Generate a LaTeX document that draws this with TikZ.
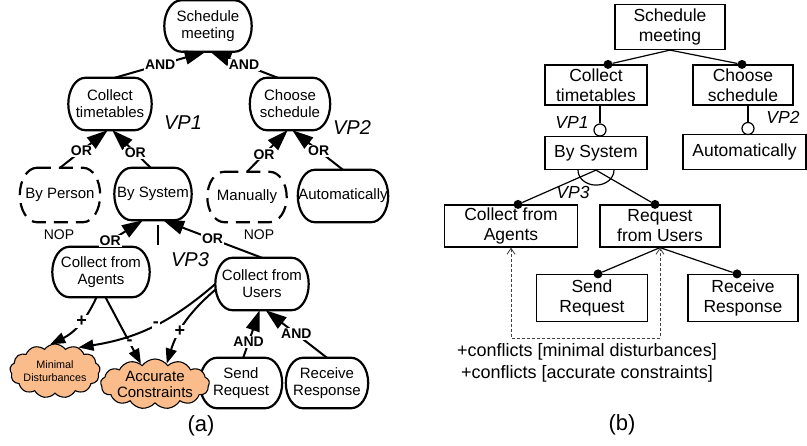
\documentclass[tikz,border=0pt]{standalone}
\usepackage{fontspec}
\setmainfont{Liberation Sans}
\usetikzlibrary{arrows.meta,shapes.symbols,calc}
\definecolor{softgoal}{RGB}{250,188,138}
\tikzset{
  % goal model (a)
  goal/.style={minimum width=80pt, align=center,
    font=\fontsize{15}{17}\selectfont, inner sep=0pt},
  goalline/.style={draw, line width=2.2pt},
  optdash/.style={dash pattern=on 14pt off 8pt},
  soft/.style={cloud, cloud puffs=13, cloud puff arc=110, cloud ignores aspect, draw,
    line width=1.1pt, fill=softgoal, align=center, inner sep=0pt},
  decomp/.style={line width=2pt, -{Triangle[length=21pt,width=14pt]}},
  contrib/.style={line width=2pt, -{Triangle[length=15pt,width=11pt]}},
  lbl/.style={font=\bfseries\fontsize{14}{16}\selectfont, fill=white, inner sep=1pt},
  sign/.style={font=\bfseries\fontsize{18}{18}\selectfont, fill=white, inner sep=1pt},
  vp/.style={font=\itshape\fontsize{20}{22}\selectfont},
  plain/.style={font=\fontsize{14}{16}\selectfont},
  % feature model (b)
  box/.style={draw, line width=1.2pt, align=center,
    font=\fontsize{17.5}{20}\selectfont, inner sep=0pt},
  dot/.style={circle, fill, inner sep=0pt, minimum size=9pt},
  ring/.style={circle, draw, line width=1.2pt, fill=white, inner sep=0pt, minimum size=12pt},
  link/.style={line width=1.2pt},
  vpb/.style={font=\itshape\fontsize{17.5}{20}\selectfont},
  conf/.style={dash pattern=on 3pt off 2pt, line width=0.8pt, draw=black!75,
    {Straight Barb[length=6pt,width=8pt]}-{Straight Barb[length=6pt,width=8pt]}},
  caption/.style={font=\fontsize{22}{24}\selectfont}
}
% outline of a goal: flat top and bottom, elliptic quarter arcs at the corners
\newcommand\goaloutline[2][]{%
  \draw[goalline,#1] let \p1=(#2.north west), \p2=(#2.south east),
      \n1={(\y1-\y2)/2}, \n2={17pt}, \n3={0.5523*17pt}, \n4={0.5523*(\y1-\y2)/2} in
    (\x1+\n2,\y1) -- (\x2-\n2,\y1)
    .. controls (\x2-\n2+\n3,\y1) and (\x2,\y1-\n1+\n4) .. (\x2,\y1-\n1)
    .. controls (\x2,\y2+\n1-\n4) and (\x2-\n2+\n3,\y2) .. (\x2-\n2,\y2)
    -- (\x1+\n2,\y2)
    .. controls (\x1+\n2-\n3,\y2) and (\x1,\y2+\n1-\n4) .. (\x1,\y2+\n1)
    .. controls (\x1,\y1-\n1+\n4) and (\x1+\n2-\n3,\y1) .. (\x1+\n2,\y1) -- cycle;}
\begin{document}
\begin{tikzpicture}[x=1pt,y=-1pt]
\useasboundingbox (0,0) rectangle (807,446);

% ---------------- (a) goal model ----------------
\node[goal, minimum width=87pt, minimum height=51pt] (sm) at (208,26) {Schedule\\meeting};
\node[goal, minimum width=83pt, minimum height=52pt] (ct) at (110,104) {Collect\\timetables};
\node[goal, minimum width=80pt, minimum height=52pt] (cs) at (290,104) {Choose\\schedule};
\node[goal, minimum width=80pt, minimum height=54pt] (bp) at (60,195) {By Person};
\node[goal, minimum width=77pt, minimum height=52pt] (bs) at (153,194) {By System};
\node[goal, minimum width=79pt, minimum height=50pt] (mn) at (247,197) {Manually};
\node[goal, minimum width=90pt, minimum height=52pt] (au) at (343,196) {Automatically};
\node[goal, minimum width=97pt, minimum height=50pt] (ca) at (101,272) {Collect from\\Agents};
\node[goal, minimum width=93pt, minimum height=52pt] (cu) at (262,284) {Collect from\\Users};
\node[goal, minimum width=82pt, minimum height=50pt] (sr) at (241,383) {Send\\Request};
\node[goal, minimum width=82pt, minimum height=50pt] (rr) at (327,383) {Receive\\Response};
\foreach \gname in {sm,ct,cs,bs,au,ca,cu,sr,rr} {\goaloutline{\gname}}
\goaloutline[optdash]{bp}
\goaloutline[optdash]{mn}

\node[soft, minimum width=88pt, minimum height=54pt,
  font=\fontsize{10.8}{13}\selectfont] (md) at (55,371) {Minimal\\Disturbances};
\node[soft, minimum width=82pt, minimum height=50pt,
  font=\fontsize{15}{16}\selectfont] (ac) at (155,384) {Accurate\\Constraints};

\node[vp] (vp1) at (183,123) {VP1};
\node[vp] (vp2) at (352,128) {VP2};
\node[vp] (vp3) at (190,260) {VP3};
\node[plain] (nop1) at (59,235) {NOP};
\node[plain] (nop2) at (259,235) {NOP};

% AND / OR decompositions
\draw[decomp] (ct.80) -- node[lbl] {AND} (sm.-95);
\draw[decomp] (cs.115) -- node[lbl] {AND} (sm.-85);
\draw[decomp] (bp.north) -- node[lbl, pos=0.45] {OR} (ct.-95);
\draw[decomp] (bs.95) -- node[lbl, pos=0.4] {OR} (ct.-85);
\draw[decomp] (mn.north) -- node[lbl, pos=0.42] {OR} (cs.-95);
\draw[decomp] (au.north) -- node[lbl, pos=0.48] {OR} (cs.-85);
\draw[decomp] (ca.north) -- node[lbl, pos=0.22] {OR} (bs.-111);
\draw[decomp] (cu.90) -- node[lbl, pos=0.5] {OR} (bs.-69);
\draw[line width=2pt] ($(bs.south)+(5,5)$) -- ++(0,20);
\draw[decomp] (sr.85) -- node[lbl, pos=0.33] {AND} (cu.-95);
\draw[decomp] (rr.north) -- node[lbl, pos=0.5] {AND} (cu.-82);

% contributions to softgoals
\draw[contrib] (ca.-100) to[bend left=20] node[sign, pos=0.42] {+} (md.100);
\draw[contrib] (ca.-80) -- node[sign, pos=0.68] {-} (ac.125);
\draw[contrib] (cu.180) to[bend left=16] node[sign, pos=0.47] {-} (md.45);
\draw[contrib] (cu.187) to[bend right=16] node[sign, pos=0.62] {+} (ac.60);

\node[caption] (capa) at (201,426) {(a)};

% ---------------- (b) feature model ----------------
\node[box, minimum width=110pt, minimum height=45pt] (fsm) at (670,27) {Schedule\\meeting};
\node[box, minimum width=102pt, minimum height=40pt] (fct) at (596,85) {Collect\\timetables};
\node[box, minimum width=100pt, minimum height=40pt] (fcs) at (743,85) {Choose\\schedule};
\node[box, minimum width=102pt, minimum height=33pt] (fbs) at (596,153) {By System};
\node[box, minimum width=123pt, minimum height=35pt] (fau) at (744.5,152) {Automatically};
\node[box, minimum width=133pt, minimum height=42pt] (fca) at (511,226) {Collect from\\Agents};
\node[box, minimum width=120pt, minimum height=42pt] (frf) at (660,226) {Request\\from Users};
\node[box, minimum width=111pt, minimum height=47pt] (fsr) at (592,298) {Send\\Request};
\node[box, minimum width=110pt, minimum height=47pt] (frr) at (743,298) {Receive\\Response};

% mandatory features
\node[dot] (d1) at ($(fct.north)+(12,0)$) {};
\node[dot] (d2) at ($(fcs.north)+(-1,0)$) {};
\node[dot] (d3) at ($(fca.north)+(7,0)$) {};
\node[dot] (d4) at ($(frf.north)+(-5,0)$) {};
\node[dot] (d5) at ($(fsr.north)+(6,0)$) {};
\node[dot] (d6) at ($(frr.north)+(-6,0)$) {};
\draw[link] (fsm.south) -- (d1);
\draw[link] (fsm.south) -- (d2);
\draw[link] (fbs.south) -- (d3);
\draw[link] (fbs.south) -- (d4);
\draw[link] (frf.south) -- (d5);
\draw[link] (frf.south) -- (d6);

% optional features
\node[ring] (r1) at (600,130) {};
\node[ring] (r2) at (748,128.5) {};
\draw[link] (r1.north) -- (r1.north |- fct.south);
\draw[link] (r2.north) -- (r2.north |- fcs.south);

% alternative group
\draw[link] ($(fbs.south)+(-18,0)$) arc[start angle=180, end angle=0, x radius=18, y radius=15];

\node[vpb] (fvp1) at (572,122) {VP1};
\node[vpb] (fvp2) at (783,117) {VP2};
\node[vpb] (fvp3) at (573,192) {VP3};

% conflict constraint
\coordinate (cf) at (590,338);
\draw[conf] (fca.south) |- (cf) -| (frf.south);
\node[font=\fontsize{18}{20}\selectfont] (t1) at (587,352) {+conflicts [minimal disturbances]};
\node[font=\fontsize{18}{20}\selectfont] (t2) at (587,374) {+conflicts [accurate constraints]};

\node[caption] (capb) at (622,425) {(b)};
\end{tikzpicture}
\end{document}
